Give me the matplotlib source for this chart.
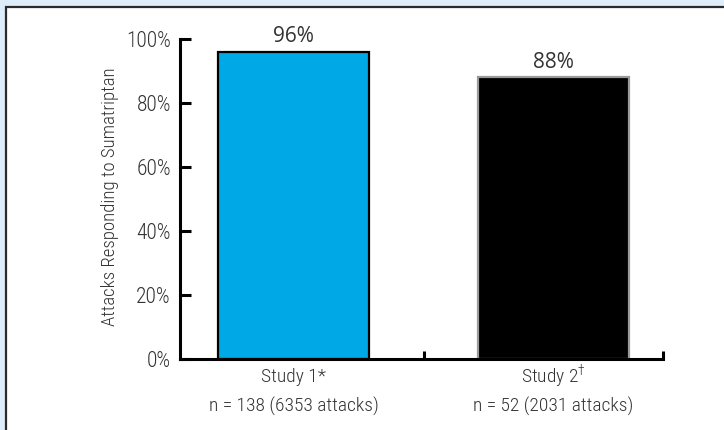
import matplotlib
matplotlib.use("Agg")
import matplotlib.pyplot as plt
from matplotlib.patches import Rectangle

# Response rates per study
studies = ["Study 1*", r"Study 2$^{\dagger}$"]
samples = ["n = 138 (6353 attacks)", "n = 52 (2031 attacks)"]
response = [96, 88]
bar_colors = ["#00A8E6", "#000000"]
edge_colors = ["#000000", "#9A9A9A"]
yticks = [0, 20, 40, 60, 80, 100]

plt.rcParams["font.family"] = ["Roboto Condensed", "DejaVu Sans"]
plt.rcParams["font.weight"] = "light"
plt.rcParams["mathtext.fontset"] = "custom"
plt.rcParams["mathtext.rm"] = "Roboto Condensed:light"
text_col = "#333333"

W, H = 724, 430
fig = plt.figure(figsize=(W / 100, H / 100), dpi=100, facecolor="#DDEEFA")

# white panel with a dark frame on the top and left
fig.patches.append(Rectangle((6 / W, -0.01), 1.0, (H - 7) / H + 0.01,
                             transform=fig.transFigure, facecolor="white",
                             edgecolor="#2B2B2B", linewidth=1.6, zorder=-5))

ax = fig.add_axes([180 / W, (H - 359) / H, 483 / W, 320 / H])
ax.set_zorder(2)
ax.set_facecolor("none")

x = [0, 1]
ax.bar(x, response, width=0.58, color=bar_colors, edgecolor=edge_colors,
       linewidth=1.6, zorder=2)

for xi, v in zip(x, response):
    ax.annotate(f"{v}%", xy=(xi, v), xytext=(0, 10.8), textcoords="offset points",
                ha="center", va="center", fontsize=15, color=text_col,
                family=["Open Sans", "DejaVu Sans"], weight="normal")

ax.set_xlim(-0.4365, 1.421)
ax.set_ylim(0, 100)

for s in ["top", "right"]:
    ax.spines[s].set_visible(False)
for s in ["left", "bottom"]:
    ax.spines[s].set_linewidth(2.2)
    ax.spines[s].set_color("black")

ax.set_yticks(yticks)
ax.set_yticklabels([f"{t}%" for t in yticks], fontsize=15.5, color=text_col)
ax.tick_params(axis="y", direction="in", length=8, width=2.2, pad=6.5)

# category names and sample sizes under the bars
ax.set_xticks(x)
ax.set_xticklabels([])
ax.tick_params(axis="x", which="major", length=0)
ax.set_xticks([0.5, 1.421], minor=True)
ax.tick_params(axis="x", which="minor", direction="in", length=5.5, width=2.2)

for xi, st, s in zip(x, studies, samples):
    ax.annotate(st, xy=(xi, 0), xycoords=("data", "axes fraction"),
                xytext=(0, -13), textcoords="offset points", ha="center",
                va="center", fontsize=14, color=text_col, annotation_clip=False)
    ax.annotate(s, xy=(xi, 0), xycoords=("data", "axes fraction"),
                xytext=(0, -34.5), textcoords="offset points", ha="center",
                va="center", fontsize=14, color=text_col, annotation_clip=False)

fig.text(110 / W, 1 - 197 / H, "Attacks Responding to Sumatriptan", rotation=90,
         ha="center", va="center", fontsize=13.5, color=text_col)

fig.savefig("out.png", dpi=100, facecolor=fig.get_facecolor())
